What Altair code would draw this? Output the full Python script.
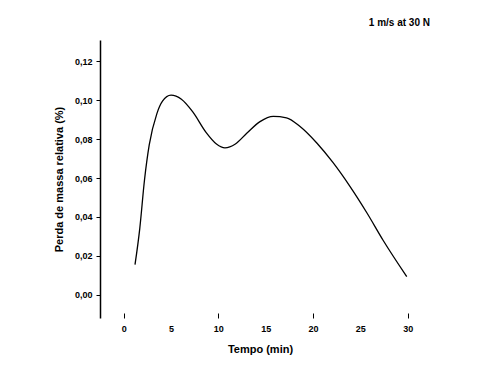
import altair as alt
import pandas as pd

tempo = [1.2, 1.7, 2.2, 2.7, 3.5, 4.1, 5.0, 6.1, 7.3, 8.7, 9.8, 10.7, 11.8, 13.0, 14.4,
         15.8, 17.2, 18.6, 20.4, 22.1, 23.9, 25.7, 27.4, 29.9]
perda = [0.0155, 0.034, 0.059, 0.077, 0.093, 0.0995, 0.1026, 0.1005, 0.094, 0.0835,
         0.0775, 0.0755, 0.0775, 0.083, 0.089, 0.0917, 0.091, 0.0866, 0.078, 0.068,
         0.0557, 0.042, 0.028, 0.0093]
x_labels = [0, 5, 10, 15, 20, 25, 30]
x_ticks = [0, 10, 20, 30]
y_ticks = [0.00, 0.02, 0.04, 0.06, 0.08, 0.10, 0.12]

df = pd.DataFrame({"t": tempo, "p": perda})
FONT = "Liberation Sans"

xscale = alt.Scale(domain=[-2.5, 31.3], nice=False, zero=False)
yscale = alt.Scale(domain=[-0.012, 0.131], nice=False, zero=False)

yaxis = alt.Axis(values=y_ticks, title="Perda de massa relativa (%)",
                 labelExpr="replace(format(datum.value, '.2f'), '.', ',')",
                 grid=False, domainColor="black", domainWidth=1.5, tickColor="black",
                 tickSize=4, labelFont=FONT, labelFontSize=9, labelFontWeight="bold",
                 labelColor="black", titleFont=FONT, titleFontSize=11, titleFontWeight="bold",
                 titleColor="black", titlePadding=10, labelPadding=4)

line = alt.Chart(df).mark_line(color="black", strokeWidth=1.3, interpolate="monotone").encode(
    x=alt.X("t:Q", scale=xscale,
            axis=alt.Axis(values=x_labels, title="Tempo (min)", grid=False, domain=False,
                          ticks=False, labelFont=FONT, labelFontSize=9, labelFontWeight="bold",
                          labelColor="black", titleFont=FONT, titleFontSize=11,
                          titleFontWeight="bold", titleColor="black", labelPadding=6,
                          titlePadding=10, orient="bottom")),
    y=alt.Y("p:Q", scale=yscale, axis=yaxis),
)

ticks = alt.Chart(df).mark_line(opacity=0).encode(
    x=alt.X("t:Q", scale=xscale,
            axis=alt.Axis(values=x_ticks, labels=False, title=None, grid=False, domain=False,
                          ticks=True, tickColor="black", tickSize=5, offset=-5,
                          orient="bottom")),
    y=alt.Y("p:Q", scale=yscale, axis=yaxis),
)

chart = alt.layer(line, ticks).resolve_axis(x="independent").properties(
    width=320, height=278,
    autosize=alt.AutoSizeParams(type="none"),
    padding={"left": 92, "top": 32, "right": 50, "bottom": 40},
    title=alt.TitleParams("1 m/s at 30 N", anchor="end", font=FONT, fontSize=10,
                          fontWeight="bold", color="black", dx=10, offset=12),
).configure_view(stroke=None)

chart.save("out.html", embed_options={"renderer": "svg", "actions": False})
